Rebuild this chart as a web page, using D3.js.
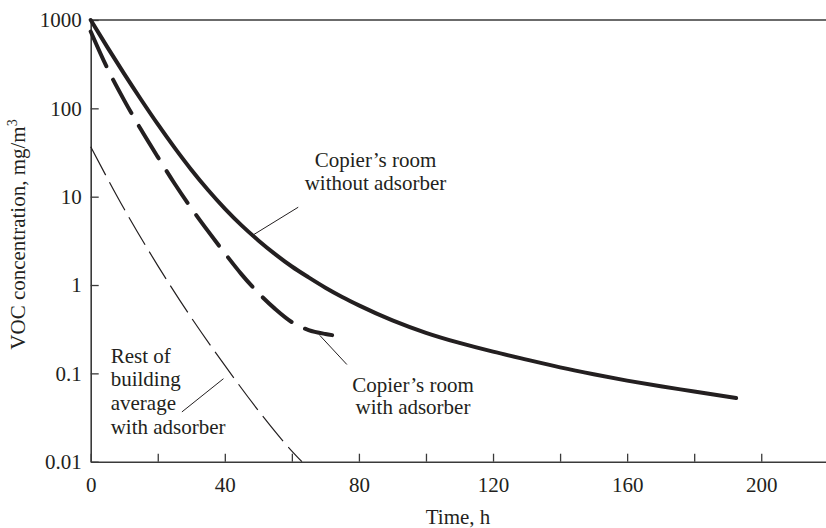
<!DOCTYPE html>
<html>
<head>
<meta charset="utf-8">
<script src="https://cdn.jsdelivr.net/npm/d3@7"></script>
<style>
  html, body { margin: 0; padding: 0; background: #fff; }
  svg { display: block; }
  text { font-family: "Liberation Serif", "Times New Roman", serif; fill: #231f20; }
</style>
</head>
<body>
<svg id="chart" width="826" height="528"></svg>
<script>
// ---- data ----
const timeNoAds = [0, 5, 10, 15, 20, 25, 30, 35, 40, 45, 50, 55, 60, 65, 70, 75, 80, 90, 100, 110, 120, 130, 140, 150, 160, 170, 180, 192.5];
const concNoAds = [1000, 490, 245.5, 125.9, 66.1, 35.9, 20.2, 11.9, 7.33, 4.73, 3.20, 2.24, 1.62, 1.22, 0.933, 0.733, 0.589, 0.398, 0.288, 0.221, 0.176, 0.143, 0.117, 0.0977, 0.0828, 0.0713, 0.0624, 0.0525];

const timeWithAds = [0, 5, 10, 15, 20, 25, 30, 35, 40, 45, 50, 55, 60, 65, 70, 72];
const concWithAds = [741, 282, 123, 57.5, 28.2, 14.1, 7.41, 4.07, 2.29, 1.32, 0.813, 0.537, 0.380, 0.309, 0.279, 0.271];

const timeRest = [0, 10, 20, 30, 40, 50, 60, 63];
const concRest = [36.7, 7.24, 1.66, 0.427, 0.123, 0.038, 0.0132, 0.01];

const xTicks = [0, 20, 40, 60, 80, 100, 120, 140, 160, 180, 200];
const xLabels = [0, 40, 80, 120, 160, 200];
const yTicks = [0.01, 0.1, 1, 10, 100, 1000];

const xTitle = "Time, h";
const yTitle = "VOC concentration, mg/m";
const yTitleSup = "3";

// ---- layout ----
const svg = d3.select("#chart");
const ink = "#231f20";
const x = d3.scaleLinear().domain([0, 220]).range([90.7, 828.3]);
const y = d3.scaleLog().domain([0.01, 1000]).range([461.7, 20]);

// top border
svg.append("line")
  .attr("x1", x(0)).attr("x2", x(220))
  .attr("y1", y(1000)).attr("y2", y(1000))
  .attr("stroke", "#3a3a3a").attr("stroke-width", 1.6);

// x axis
const gx = svg.append("g")
  .attr("transform", `translate(0,${y(0.01)})`)
  .call(d3.axisBottom(x).tickValues(xTicks).tickSize(-8).tickSizeOuter(0).tickPadding(15)
    .tickFormat(d => xLabels.includes(d) ? String(d) : ""));
gx.select(".domain").attr("stroke", "#3a3a3a").attr("stroke-width", 1.6);
gx.selectAll(".tick line").attr("stroke", "#3a3a3a").attr("stroke-width", 1.3);
gx.selectAll(".tick text").attr("font-size", 21).style("font-family", "Liberation Serif").attr("fill", ink);

// y axis
const gy = svg.append("g")
  .attr("transform", `translate(${x(0)},0)`)
  .call(d3.axisLeft(y).tickValues(yTicks).tickSize(-8).tickSizeOuter(0).tickPadding(9)
    .tickFormat(d => String(d)));
gy.select(".domain").attr("stroke", "#3a3a3a").attr("stroke-width", 1.6);
gy.selectAll(".tick line").attr("stroke", "#3a3a3a").attr("stroke-width", 1.3);
gy.selectAll(".tick text").attr("font-size", 21).style("font-family", "Liberation Serif").attr("fill", ink);

// axis titles
svg.append("text")
  .attr("x", 458).attr("y", 524)
  .attr("text-anchor", "middle").attr("font-size", 21)
  .text(xTitle);

const yt = svg.append("text")
  .attr("transform", "translate(25,234.5) rotate(-90)")
  .attr("text-anchor", "middle").attr("font-size", 21);
yt.append("tspan").text(yTitle);
yt.append("tspan").attr("font-size", 14).attr("dy", -8).text(yTitleSup);

// curves
const line = d3.line().x(d => x(d[0])).y(d => y(d[1])).curve(d3.curveMonotoneX);
const zip = (a, b) => a.map((t, i) => [t, b[i]]);

svg.append("path")
  .attr("d", line(zip(timeNoAds, concNoAds)))
  .attr("fill", "none").attr("stroke", ink).attr("stroke-width", 4)
  .attr("stroke-linecap", "round");

svg.append("path")
  .attr("d", line(zip(timeWithAds, concWithAds)))
  .attr("fill", "none").attr("stroke", ink).attr("stroke-width", 4)
  .attr("stroke-dasharray", "38,15").attr("stroke-linecap", "round");

svg.append("path")
  .attr("d", line(zip(timeRest, concRest)))
  .attr("fill", "none").attr("stroke", ink).attr("stroke-width", 1.2)
  .attr("stroke-dasharray", "32,8");

// annotations
function label(lines, xPos, y0, dy, anchor) {
  const t = svg.append("text").attr("font-size", 21).attr("text-anchor", anchor);
  lines.forEach((s, i) => t.append("tspan").attr("x", xPos).attr("y", y0 + i * dy).text(s));
}
label(["Copier\u2019s room", "without adsorber"], 375.5, 166.7, 23.5, "middle");
label(["Copier\u2019s room", "with adsorber"], 413, 391.7, 22, "middle");
label(["Rest of", "building", "average", "with adsorber"], 110.7, 362.5, 23.8, "start");

// leader lines: [x-value, y-value] pairs
function leader(p1, p2) {
  svg.append("line")
    .attr("x1", x(p1[0])).attr("y1", y(p1[1]))
    .attr("x2", x(p2[0])).attr("y2", y(p2[1]))
    .attr("stroke", ink).attr("stroke-width", 1);
}
leader([61.9, 7.6], [48.0, 3.6]);
leader([68.3, 0.27], [76.4, 0.126]);
leader([27.2, 0.0366], [39.6, 0.087]);
</script>
</body>
</html>
